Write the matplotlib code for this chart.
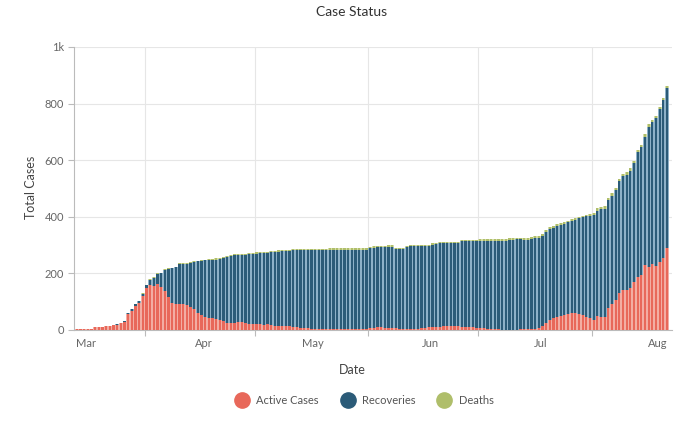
"""
Case Status: stacked daily bars of active cases, recoveries and deaths.
"""

import numpy as np
import pandas as pd
import matplotlib
matplotlib.use("Agg")
import matplotlib.pyplot as plt
import matplotlib.dates as mdates
from matplotlib.lines import Line2D

plt.rcParams["font.family"] = ["Lato", "DejaVu Sans"]

# --------------------------------------------------
# Data (one value per day from 13 Mar)
# --------------------------------------------------
start_date = "2020-03-13"

total_cases = [
    2, 2, 3, 4, 5, 12, 12, 12, 13, 15,
    18, 20, 26, 30, 61, 73, 92, 103, 129, 159,
    179, 186, 200, 201, 214, 218, 220, 223, 235, 236,
    236, 239, 242, 245, 247, 249, 250, 252, 253, 255,
    259, 261, 265, 268, 268, 269, 270, 271, 273, 274,
    275, 276, 277, 279, 280, 281, 282, 283, 284, 285,
    286, 286, 286, 286, 286, 287, 287, 287, 287, 288,
    288, 288, 288, 288, 288, 288, 288, 288, 289, 289,
    294, 296, 298, 298, 298, 299, 299, 290, 290, 291,
    298, 300, 300, 300, 301, 301, 302, 306, 309, 311,
    311, 312, 312, 312, 312, 318, 318, 319, 319, 319,
    321, 322, 322, 321, 321, 321, 322, 322, 324, 324,
    326, 326, 325, 325, 327, 332, 332, 338, 353, 363,
    367, 373, 378, 381, 386, 391, 395, 400, 404, 407,
    410, 415, 430, 434, 437, 468, 483, 501, 534, 551,
    557, 571, 597, 636, 654, 691, 727, 742, 757, 789,
    821, 862,
]

active_cases = [
    2, 2, 3, 4, 5, 12, 12, 12, 13, 15,
    18, 19, 25, 28, 56, 68, 85, 96, 120, 147,
    159, 155, 162, 153, 139, 118, 96, 92, 92, 91,
    87, 82, 73, 61, 53, 47, 42, 42, 40, 36,
    30, 26, 25, 26, 27, 27, 25, 22, 20, 20,
    20, 19, 20, 18, 15, 15, 14, 14, 13, 12,
    10, 8, 7, 6, 5, 5, 5, 4, 4, 4,
    4, 4, 4, 4, 4, 5, 5, 5, 5, 5,
    8, 8, 9, 9, 8, 8, 7, 7, 5, 5,
    5, 5, 5, 5, 6, 7, 9, 10, 12, 12,
    13, 14, 14, 13, 13, 12, 12, 10, 9, 8,
    8, 6, 4, 3, 2, 2, 1, 1, 1, 1,
    1, 2, 2, 2, 3, 4, 8, 15, 24, 35,
    42, 47, 50, 53, 56, 59, 59, 57, 53, 47,
    41, 36, 51, 47, 47, 77, 91, 106, 130, 141,
    141, 150, 171, 188, 194, 230, 224, 232, 227, 239,
    256, 289,
]

deaths = [
    0, 0, 0, 0, 0, 0, 0, 0, 0, 0,
    0, 0, 0, 0, 0, 0, 0, 0, 1, 1,
    1, 1, 1, 1, 1, 1, 2, 2, 2, 2,
    2, 2, 2, 2, 2, 2, 4, 4, 4, 4,
    4, 4, 4, 4, 4, 4, 4, 4, 4, 4,
    4, 4, 4, 4, 4, 4, 4, 4, 4, 4,
    4, 5, 5, 5, 5, 5, 5, 5, 5, 5,
    5, 5, 5, 5, 5, 5, 5, 5, 5, 5,
    5, 5, 5, 5, 5, 5, 5, 5, 5, 5,
    5, 5, 5, 5, 5, 5, 5, 5, 5, 5,
    5, 5, 5, 5, 5, 5, 5, 5, 5, 5,
    5, 6, 6, 6, 6, 6, 6, 6, 6, 6,
    6, 6, 6, 6, 6, 6, 6, 6, 6, 6,
    6, 6, 6, 6, 6, 6, 6, 6, 6, 6,
    6, 8, 8, 8, 8, 8, 8, 8, 8, 8,
    8, 8, 8, 8, 8, 8, 8, 8, 8, 8,
    8, 8,
]

series_names = ["Active Cases", "Recoveries", "Deaths"]
y_ticks = [0, 200, 400, 600, 800, 1000]
y_tick_labels = ["0", "200", "400", "600", "800", "1k"]
month_labels = ["Mar", "Apr", "May", "Jun", "Jul", "Aug"]
month_label_dates = ["2020-03-16", "2020-04-17", "2020-05-17",
                     "2020-06-18", "2020-07-18", "2020-08-19"]

# --------------------------------------------------
# Prepare
# --------------------------------------------------
dates = pd.date_range(start_date, periods=len(total_cases), freq="D")
x = mdates.date2num(dates)
active = np.array(active_cases)
dead = np.array(deaths)
recovered = np.array(total_cases) - active - dead

colors = ["#E8685A", "#2B5B78", "#AFBE6A"]
tints = ["#F3ADA3", "#8DB1C8", "#D6DEA8"]

# --------------------------------------------------
# Plot
# --------------------------------------------------
fig = plt.figure(figsize=(6.94, 4.26), dpi=100)
ax = fig.add_axes([0.1066, 0.2254, 0.8614, 0.6643])

bottom = np.zeros(len(x))
for vals, color, tint in zip([active, recovered, dead], colors, tints):
    ax.bar(x, vals, width=1.0, bottom=bottom, align="edge",
           color=tint, linewidth=0, zorder=2)
    ax.bar(x + 0.18, vals, width=0.62, bottom=bottom, align="edge",
           color=color, linewidth=0, zorder=3)
    bottom = bottom + vals

ax.set_xlim(x[0] - 0.3, x[-1] + 1.8)
ax.set_ylim(0, 1000)

ax.set_yticks(y_ticks)
ax.set_yticklabels(y_tick_labels)

ax.xaxis.set_major_locator(mdates.MonthLocator())
ax.xaxis.set_major_formatter(plt.NullFormatter())
ax.set_xticks(mdates.date2num(pd.to_datetime(month_label_dates)), minor=True)
ax.set_xticklabels(month_labels, minor=True)

ax.tick_params(axis="x", which="major", length=4, color="#bbbbbb")
ax.tick_params(axis="x", which="minor", length=0, pad=6,
               labelsize=8, labelcolor="#666666")
ax.tick_params(axis="y", length=4, color="#bbbbbb", pad=3,
               labelsize=8, labelcolor="#666666")

ax.grid(True, which="major", color="#e6e6e6", linewidth=0.8, zorder=0)
ax.set_axisbelow(True)

for side in ["top", "right"]:
    ax.spines[side].set_visible(False)
ax.spines["left"].set_color("#bbbbbb")
ax.spines["bottom"].set_color("#bbbbbb")

fig.text(0.506, 0.972, "Case Status", ha="center", va="center",
         fontsize=10, color="#333333")
fig.text(0.044, 0.559, "Total Cases", ha="center", va="center",
         rotation=90, fontsize=9, color="#444444")
fig.text(0.507, 0.131, "Date", ha="center", va="center",
         fontsize=9, color="#444444")

handles = [Line2D([], [], marker="o", linestyle="", markersize=11,
                  color=c) for c in colors]
fig.legend(handles, series_names, loc="center", ncol=3,
           bbox_to_anchor=(0.522, 0.061), frameon=False, fontsize=8,
           labelcolor="#555555", handletextpad=0.3, columnspacing=1.6)

fig.savefig("out.png", dpi=100)
